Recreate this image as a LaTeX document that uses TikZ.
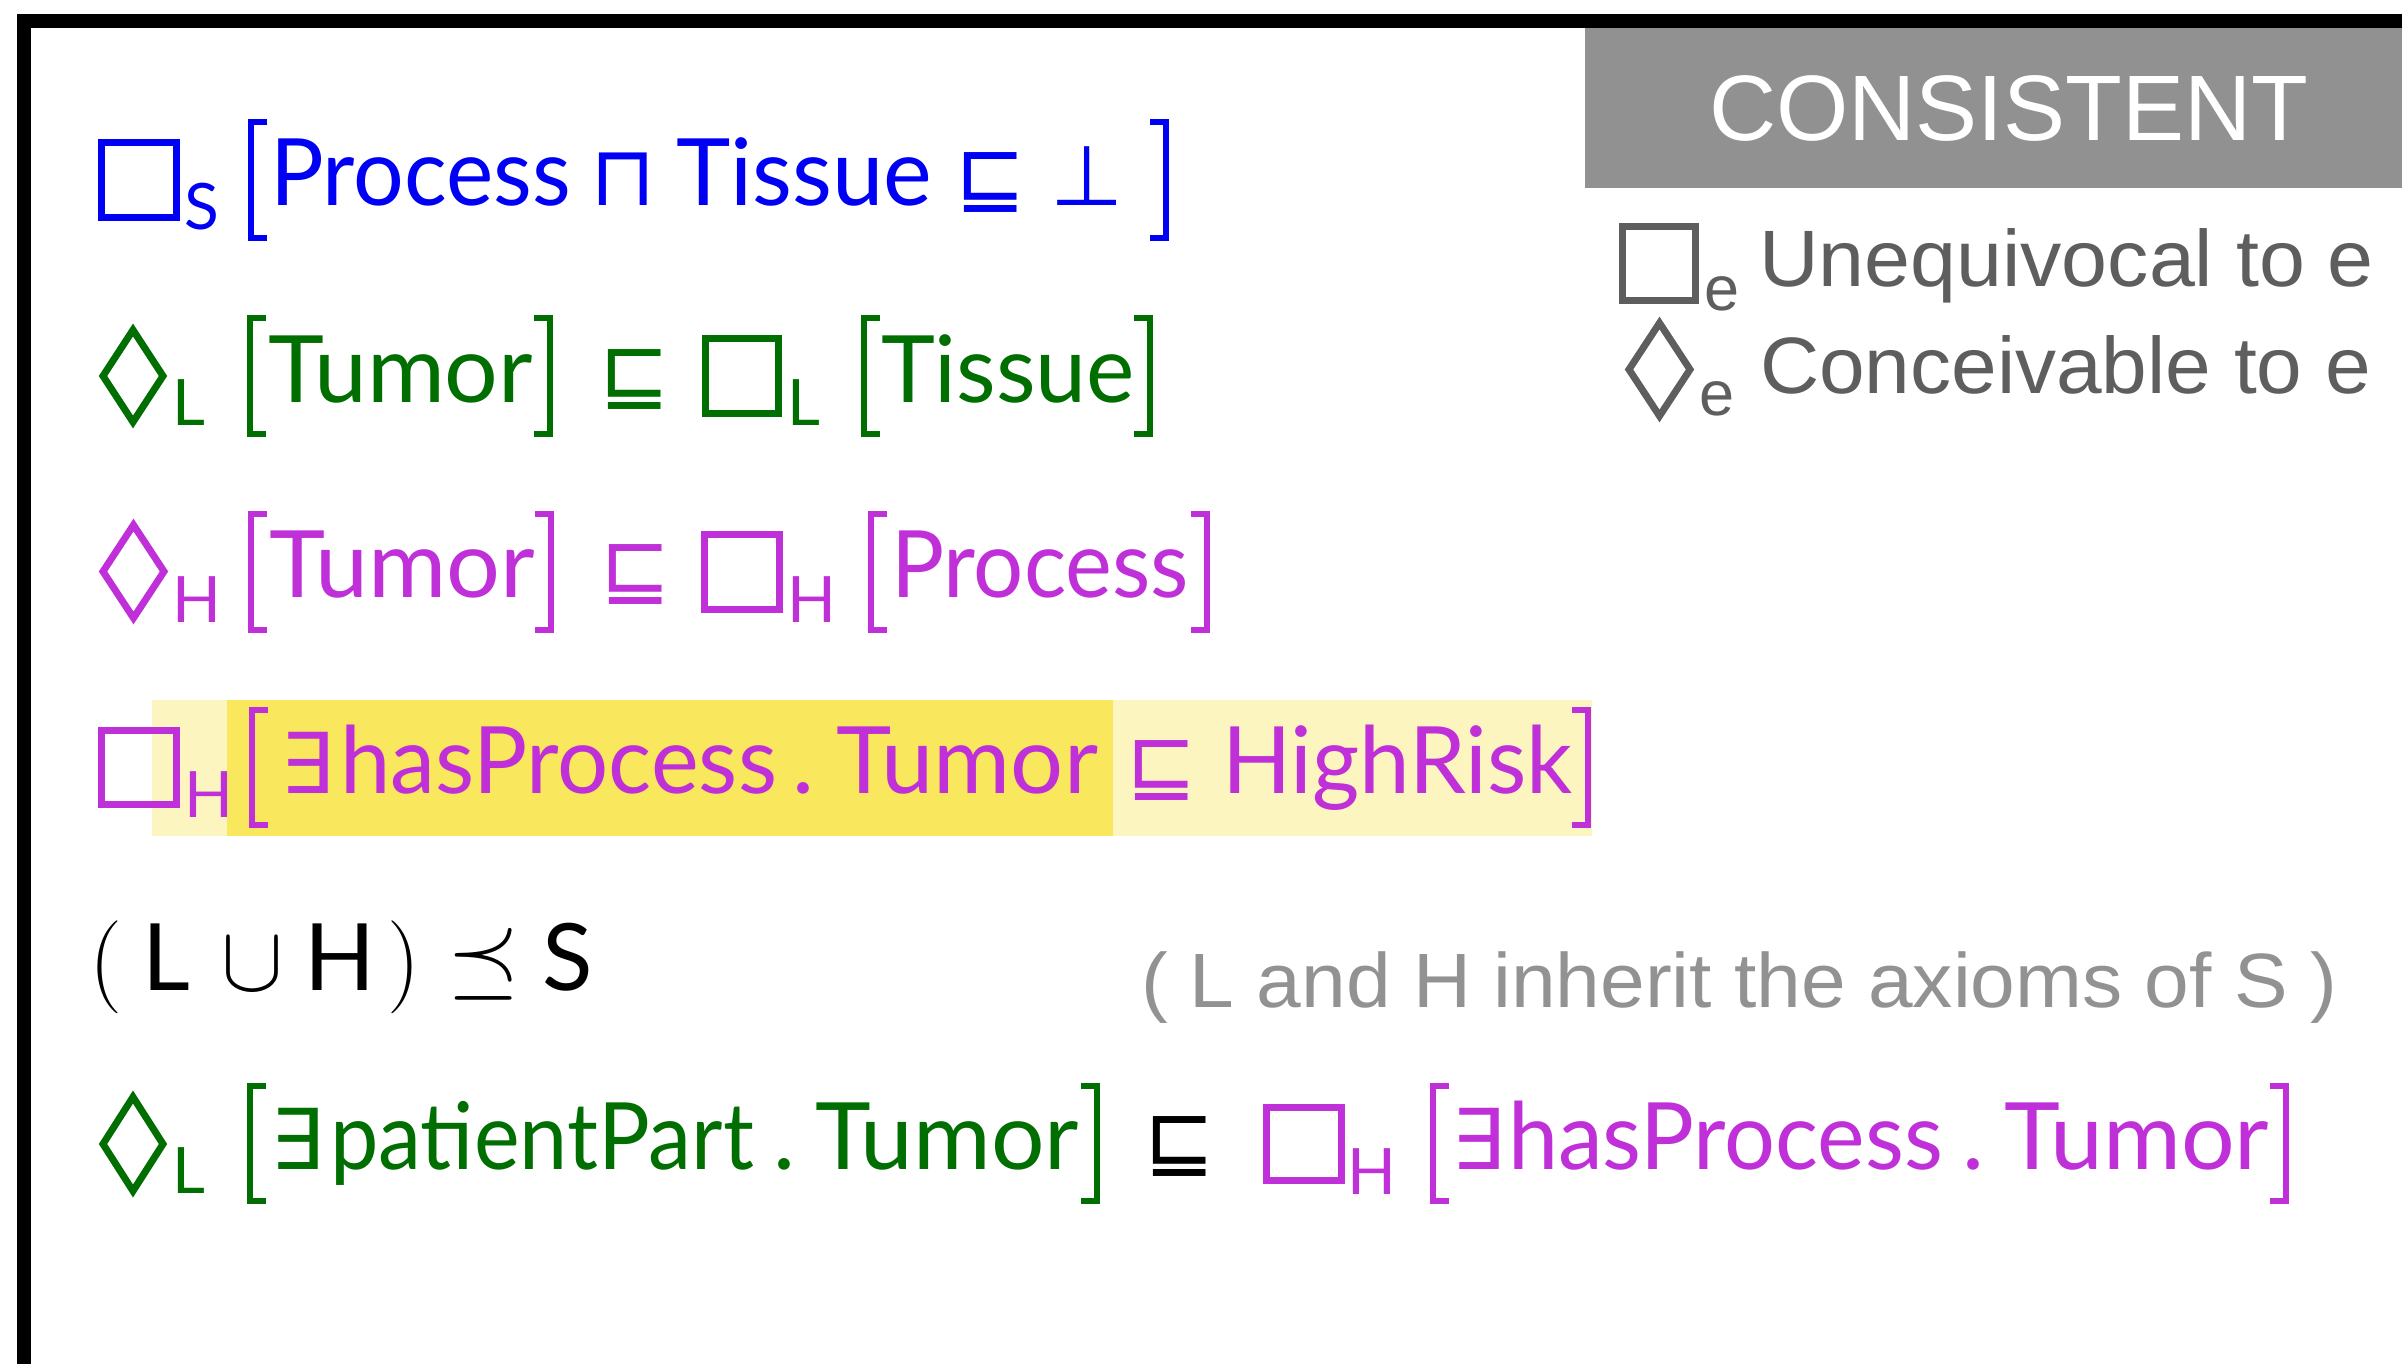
\documentclass[tikz,border=0pt]{standalone}
\usepackage{fix-cm}
\usepackage{graphicx}
\usepackage{fontspec}
\newfontfamily\avfont{Lato}
\newfontfamily\hvfont{Liberation Sans}
\newfontfamily\symfont{DejaVu Sans}
\definecolor{cblue}{RGB}{0,0,245}
\definecolor{cgreen}{RGB}{0,110,0}
\definecolor{cmag}{RGB}{192,48,216}
\definecolor{gbox}{RGB}{145,145,145}
\definecolor{gtext}{RGB}{146,146,146}
\definecolor{gleg}{RGB}{94,94,94}
\definecolor{ylight}{RGB}{253,245,192}
\definecolor{ydark}{RGB}{249,231,94}
% set a word to a given advance width (in pt) by horizontal scaling
\newlength\tokw
\newcommand\fitto[2]{\settowidth{\tokw}{#2}\pgfmathsetmacro\fitr{#1/\tokw}\scalebox{\fitr}[1]{#2}}
% left and right brackets: vertical stroke x, top y, bottom y, colour
\newcommand\LBrk[4]{\draw[brk,#4] ({#1+16},#2) -- (#1,#2) -- (#1,#3) -- ({#1+16},#3);}
\newcommand\RBrk[4]{\draw[brk,#4] ({#1-16},#2) -- (#1,#2) -- (#1,#3) -- ({#1-16},#3);}
% modal diamond: centre x, centre y, half width, half height, colour
\newcommand\Dia[5]{\draw[mshape,#5] ({#1-#3},#2) -- (#1,{#2-#4}) -- ({#1+#3},#2) -- (#1,{#2+#4}) -- cycle;}
\begin{document}
\begin{tikzpicture}[x=1pt,y=-1pt,
  tok/.style={anchor=base west, inner sep=0pt, outer sep=0pt},
  word/.style={tok, font=\avfont\fontsize{93}{100}\selectfont},
  idx/.style={tok, font=\avfont\fontsize{64}{70}\selectfont},
  op/.style={tok, font=\symfont\fontsize{84}{100}\selectfont},
  mth/.style={tok, font=\fontsize{93}{100}\selectfont},
  brk/.style={line width=5.5pt, line join=miter, line cap=butt},
  mshape/.style={line width=7pt, line join=miter},
  legtxt/.style={tok, font=\hvfont\fontsize{80}{90}\selectfont, text=gleg},
  legidx/.style={tok, font=\hvfont\fontsize{63}{70}\selectfont, text=gleg}]
\useasboundingbox (0,0) rectangle (2402,1364);
\clip (0,0) rectangle (2402,1364);
\fill[white] (0,0) rectangle (2402,1364);

% status banner and legend
\fill[gbox] (1585,20) rectangle (2402,188);
\node[tok, font=\hvfont\fontsize{93}{100}\selectfont, text=white] (status) at (1709,141) {CONSISTENT};
\draw[mshape,gleg] (1622.5,226.5) rectangle (1695.5,300.5);
\node[legidx] (le1) at (1704,311) {e};
\node[legtxt] (leg1) at (1759,287) {\fitto{615}{Unequivocal to e}};
\Dia{1659.5}{369.5}{30.5}{46.5}{gleg}
\node[legidx] (le2) at (1699,415) {e};
\node[legtxt] (leg2) at (1760,393) {\fitto{611}{Conceivable to e}};

% frame
\draw[line width=14pt] (24,1400) -- (24,21) -- (2420,21);

% row 1: box_S [Process ⊓ Tissue ⊑ ⊥]
\draw[mshape,cblue] (101.5,142.5) rectangle (176.5,217.5);
\node[idx, text=cblue] (r1s) at (184,230) {S};
\LBrk{251}{122}{238}{cblue}
\node[word, text=cblue] (r1a) at (270,206) {\fitto{301}{Process}};
\node[op, text=cblue] (r1b) at (590,206) {⊓};
\node[word, text=cblue] (r1c) at (676,206) {\fitto{256}{Tissue}};
\node[op, text=cblue] (r1d) at (955,206) {⊑};
\node[op, text=cblue] (r1e) at (1050,206) {⊥};
\RBrk{1166}{122}{238}{cblue}

% row 2: dia_L [Tumor] ⊑ box_L [Tissue]
\Dia{133}{376}{30}{46}{cgreen}
\node[idx, text=cgreen] (r2l) at (172,425) {L};
\LBrk{250}{318}{434}{cgreen}
\node[word, text=cgreen] (r2a) at (268,402) {\fitto{265}{Tumor}};
\RBrk{550}{318}{434}{cgreen}
\node[op, text=cgreen] (r2b) at (599,402) {⊑};
\draw[mshape,cgreen] (705.5,338.5) rectangle (778.5,413.5);
\node[idx, text=cgreen] (r2m) at (787,425) {L};
\LBrk{864}{318}{434}{cgreen}
\node[word, text=cgreen] (r2c) at (881,402) {\fitto{254}{Tissue}};
\RBrk{1150}{318}{434}{cgreen}

% row 3: dia_H [Tumor] ⊑ box_H [Process]
\Dia{133.5}{571.5}{30.5}{46.5}{cmag}
\node[idx, text=cmag] (r3h) at (172,622) {H};
\LBrk{251}{514}{630}{cmag}
\node[word, text=cmag] (r3a) at (269,597) {\fitto{266}{Tumor}};
\RBrk{551}{514}{630}{cmag}
\node[op, text=cmag] (r3b) at (600,597) {⊑};
\draw[mshape,cmag] (704.5,534.5) rectangle (779.5,609.5);
\node[idx, text=cmag] (r3i) at (787,622) {H};
\LBrk{871}{514}{630}{cmag}
\node[word, text=cmag] (r3c) at (891,597) {\fitto{298}{Process}};
\RBrk{1207}{514}{630}{cmag}

% row 4: highlighted axiom box_H [∃hasProcess . Tumor ⊑ HighRisk]
\fill[ylight] (152,700) rectangle (1592,836);
\fill[ydark] (227,700) rectangle (1113,836);
\draw[mshape,cmag] (101.5,730.5) rectangle (176.5,804.5);
\node[idx, text=cmag] (r4h) at (184,817) {H};
\LBrk{252}{710}{825}{cmag}
\node[op, text=cmag] (r4a) at (280,793) {∃};
\node[word, text=cmag] (r4b) at (340,793) {\fitto{437}{hasProcess}};
\node[word, text=cmag] (r4c) at (792,793) {.};
\node[word, text=cmag] (r4d) at (836,793) {\fitto{262}{Tumor}};
\node[op, text=cmag] (r4e) at (1126,793) {⊑};
\node[word, text=cmag] (r4f) at (1222,793) {\fitto{351}{HighRisk}};
\RBrk{1588}{710}{825}{cmag}

% row 5: (L ∪ H) ≼ S
\node[mth] (r5a) at (89,990) {$($};
\node[word] (r5b) at (142,990) {L};
\node[mth] (r5c) at (221,990) {$\cup$};
\node[word] (r5d) at (304,990) {H};
\node[mth] (r5e) at (387,990) {$)$};
\node[mth] (r5f) at (447,987) {$\preceq$};
\node[word] (r5g) at (542,990) {S};
\node[tok, font=\hvfont\fontsize{77}{90}\selectfont, text=gtext] (note) at (1141,1007) {\fitto{1196}{( L and H inherit the axioms of S )}};

% row 6: dia_L [∃patientPart . Tumor] ⊑ box_H [∃hasProcess . Tumor]
\Dia{133}{1144}{30}{47}{cgreen}
\node[idx, text=cgreen] (r6l) at (172,1193) {L};
\LBrk{250}{1086}{1201}{cgreen}
\node[op, text=cgreen] (r6a) at (270,1169) {∃};
\node[word, text=cgreen] (r6b) at (330,1169) {\fitto{424}{patientPart}};
\node[word, text=cgreen] (r6c) at (773,1169) {.};
\node[word, text=cgreen] (r6d) at (815,1169) {\fitto{264}{Tumor}};
\RBrk{1097}{1086}{1201}{cgreen}
\node[op] (r6e) at (1144,1169) {⊑};
\draw[mshape,cmag] (1266.5,1107.5) rectangle (1341.5,1180.5);
\node[idx, text=cmag] (r6h) at (1347,1194) {H};
\LBrk{1433}{1086}{1201}{cmag}
\node[op, text=cmag] (r6f) at (1451,1169) {∃};
\node[word, text=cmag] (r6g) at (1508,1169) {\fitto{435}{hasProcess}};
\node[word, text=cmag] (r6i) at (1962,1169) {.};
\node[word, text=cmag] (r6j) at (2004,1169) {\fitto{265}{Tumor}};
\RBrk{2286}{1086}{1201}{cmag}
\end{tikzpicture}
\end{document}
